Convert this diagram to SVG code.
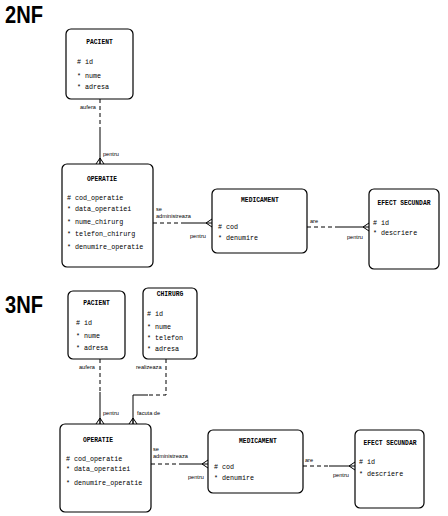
<svg xmlns="http://www.w3.org/2000/svg" width="448" height="516" viewBox="0 0 448 516">
<style>
text{fill:#000}
.box{fill:#fff;stroke:#000;stroke-width:1.2}
.t{font-family:"Liberation Mono",monospace;font-size:6.3px;font-weight:bold;text-anchor:middle}
.a{font-family:"Liberation Mono",monospace;font-size:6.7px}
.l{font-family:"Liberation Sans",Arial,sans-serif;font-size:5.6px}
.h{font-family:"Liberation Sans",Arial,sans-serif;font-size:23px;font-weight:bold}
.d{stroke:#000;stroke-width:1;fill:none;stroke-dasharray:4,3}
.s{stroke:#000;stroke-width:1;fill:none}
</style>
<rect width="448" height="516" fill="#fff"/>
<text class="h" x="5" y="23" textLength="38" lengthAdjust="spacingAndGlyphs">2NF</text>
<text class="h" x="5" y="313" textLength="38" lengthAdjust="spacingAndGlyphs">3NF</text>

<g id="connectors">
<!-- 2NF PACIENT - OPERATIE -->
<path class="d" d="M100,99 V131"/>
<path class="s" d="M100,131 V164"/>
<path class="s" d="M96,164 L100,158 L104,164 M100,158 V164"/>
<text class="l" x="80" y="109">aufera</text>
<text class="l" x="103" y="156">pentru</text>
<!-- 2NF OPERATIE - MEDICAMENT -->
<path class="d" d="M153,223 H183"/>
<path class="s" d="M183,223 H212"/>
<path class="s" d="M212,219 L206,223 L212,227"/>
<text class="l" x="156" y="211">se</text>
<text class="l" x="156" y="218">administreaza</text>
<text class="l" x="190" y="238">pentru</text>
<!-- 2NF MEDICAMENT - EFECT -->
<path class="d" d="M307,227 H338"/>
<path class="s" d="M338,227 H369"/>
<path class="s" d="M369,223 L363,227 L369,231"/>
<text class="l" x="310" y="223">are</text>
<text class="l" x="347" y="239">pentru</text>

<!-- 3NF PACIENT - OPERATIE -->
<path class="d" d="M100,359 V392"/>
<path class="s" d="M100,392 V424"/>
<path class="s" d="M96,424 L100,418 L104,424 M100,418 V424"/>
<text class="l" x="79" y="369">aufera</text>
<text class="l" x="103" y="415">pentru</text>
<!-- 3NF CHIRURG - OPERATIE -->
<path class="d" d="M166,359 V395 H148"/>
<path class="s" d="M148,395 H133 V424"/>
<path class="s" d="M129,424 L133,418 L137,424 M133,418 V424"/>
<text class="l" x="136" y="369">realizeaza</text>
<text class="l" x="137" y="415">facuta de</text>
<!-- 3NF OPERATIE - MEDICAMENT -->
<path class="d" d="M151,464 H180"/>
<path class="s" d="M180,464 H208"/>
<path class="s" d="M208,460 L202,464 L208,468"/>
<text class="l" x="153" y="451">se</text>
<text class="l" x="153" y="458">administreaza</text>
<text class="l" x="188" y="479">pentru</text>
<!-- 3NF MEDICAMENT - EFECT -->
<path class="d" d="M303,466 H329"/>
<path class="s" d="M329,466 H355"/>
<path class="s" d="M355,462 L349,466 L355,470"/>
<text class="l" x="305" y="462">are</text>
<text class="l" x="333" y="477">pentru</text>
</g>

<g id="pacient2">
<rect class="box" x="66" y="29" width="67" height="70" rx="5"/>
<text class="t" x="99.5" y="44">PACIENT</text>
<text class="a" x="77" y="64"># id</text>
<text class="a" x="77" y="78">* nume</text>
<text class="a" x="77" y="89">* adresa</text>
</g>
<g id="operatie2">
<rect class="box" x="62" y="164" width="91" height="103" rx="5"/>
<text class="t" x="102" y="181">OPERATIE</text>
<text class="a" x="67" y="200"># cod_operatie</text>
<text class="a" x="67" y="211">* data_operatiei</text>
<text class="a" x="67" y="224">* nume_chirurg</text>
<text class="a" x="67" y="236">* telefon_chirurg</text>
<text class="a" x="67" y="249">* denumire_operatie</text>
</g>
<g id="medicament2">
<rect class="box" x="212" y="189" width="95" height="64" rx="5"/>
<text class="t" x="260" y="202">MEDICAMENT</text>
<text class="a" x="218" y="229"># cod</text>
<text class="a" x="218" y="240">* denumire</text>
</g>
<g id="efect2">
<rect class="box" x="369" y="189" width="70" height="80" rx="5"/>
<text class="t" x="404" y="205">EFECT SECUNDAR</text>
<text class="a" x="373" y="225"># id</text>
<text class="a" x="373" y="235">* descriere</text>
</g>

<g id="pacient3">
<rect class="box" x="68" y="291" width="57" height="68" rx="5"/>
<text class="t" x="96.5" y="305">PACIENT</text>
<text class="a" x="76" y="325"># id</text>
<text class="a" x="76" y="338">* nume</text>
<text class="a" x="76" y="350">* adresa</text>
</g>
<g id="chirurg3">
<rect class="box" x="143" y="288" width="54" height="71" rx="5"/>
<text class="t" x="170" y="296">CHIRURG</text>
<text class="a" x="147" y="316"># id</text>
<text class="a" x="147" y="329">* nume</text>
<text class="a" x="147" y="340">* telefon</text>
<text class="a" x="147" y="351">* adresa</text>
</g>
<g id="operatie3">
<rect class="box" x="60" y="424" width="91" height="88" rx="5"/>
<text class="t" x="98" y="442">OPERATIE</text>
<text class="a" x="66" y="461"># cod_operatie</text>
<text class="a" x="66" y="471">* data_operatiei</text>
<text class="a" x="66" y="485">* denumire_operatie</text>
</g>
<g id="medicament3">
<rect class="box" x="208" y="430" width="95" height="63" rx="5"/>
<text class="t" x="258" y="443">MEDICAMENT</text>
<text class="a" x="214" y="469"># cod</text>
<text class="a" x="214" y="480">* denumire</text>
</g>
<g id="efect3">
<rect class="box" x="355" y="430" width="69" height="78" rx="5"/>
<text class="t" x="390" y="445">EFECT SECUNDAR</text>
<text class="a" x="359" y="464"># id</text>
<text class="a" x="359" y="476">* descriere</text>
</g>
</svg>
